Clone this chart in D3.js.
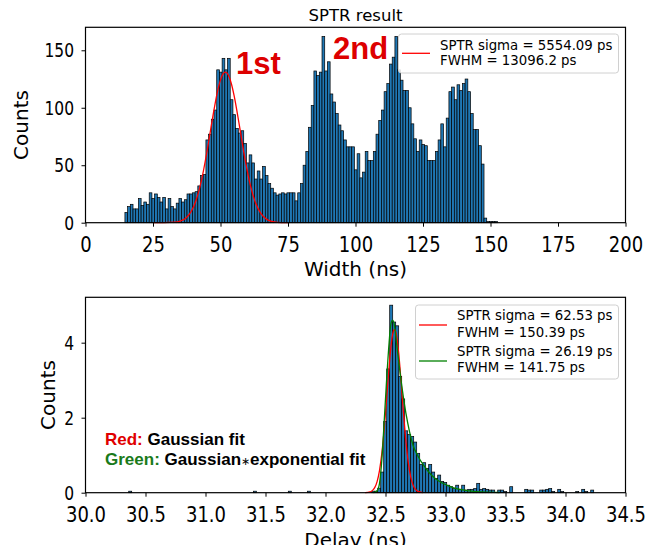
<!DOCTYPE html>
<html><head><meta charset="utf-8">
<script src="https://cdn.jsdelivr.net/npm/d3@7"></script>
<style>body{margin:0;background:#fff} svg{display:block}</style>
</head><body><svg id="c" width="658" height="545"></svg>
<script>
// ---------- data ----------
const widthBinStart = 14.6;
const widthBinSize = 1.0;
const widthCounts = [
  9,14,16,12,12,21,15,18,16,26,
  21,25,22,18,22,12,21,14,12,17,
  21,18,20,25,25,26,27,32,41,42,
  72,77,90,98,133,131,143,133,143,107,
  94,82,78,80,69,52,59,52,38,45,
  38,49,41,34,30,26,24,25,26,25,
  26,26,26,19,26,34,50,62,83,102,
  132,128,131,162,132,140,112,105,95,85,
  80,72,66,66,66,46,60,39,44,62,
  54,54,62,77,89,98,114,121,138,144,
  162,133,124,115,115,100,86,73,62,72,
  68,67,54,54,54,62,72,86,66,91,
  114,118,107,120,115,121,125,114,95,81,
  81,67,51,4,1,1,1,1
];
const firstFitX = [25,29,33,35,37,39,41,43,45,47,49,50,51,51.8,53,54,55,57,59,61,63,65,67,69,71,75];
const firstFitY = [0,0.03,0.43,1.35,3.76,9.2,19.8,37.3,62,90.2,115.4,124.3,129.7,131,128,121.1,111,84.5,56.5,33.2,17.2,7.8,3.1,1.08,0.33,0.02];

const delayBinStart = 32.385;
const delayBinSize = 0.025;
const delayDensity = [
  0.04,0.04,0.12,0.55,1.9,3.3,5.0,4.55,4.45,3.1,
  2.5,1.65,1.55,1.5,1.35,1.05,0.75,0.8,0.65,0.75,
  0.55,0.38,0.47,0.3,0.27,0.2,0.16,0.11,0.2,0.09,
  0.2,0.07,0.09,0.09,0.11,0.25,0.09,0.11,0.09,0.07,
  0.07,0,0.07,0.07,0.03,0,0.16,0,0,0,
  0,0.09,0.07,0.07,0,0,0.07,0.07,0.09,0.11,
  0.03,0,0.09,0.03,0,0,0,0,0.03,0,
  0.09,0.03,0,0.07
];
const delayOutlierBins = [30.36, 31.40, 31.69, 31.85];
const delayOutlierDensity = [0.04, 0.04, 0.04, 0.04];
const gaussFitX = [32.33,32.37,32.39,32.41,32.43,32.45,32.47,32.49,32.51,32.53,32.55,32.57,32.575,32.59,32.61,32.63,32.65,32.67,32.69,32.71,32.73,32.75,32.77,32.81];
const gaussFitY = [0.002,0.02,0.055,0.134,0.295,0.59,1.06,1.73,2.53,3.36,4.02,4.34,4.35,4.23,3.72,2.95,2.12,1.37,0.8,0.42,0.2,0.087,0.034,0.004];
const expFitX = [32.40,32.43,32.45,32.47,32.49,32.51,32.53,32.545,32.56,32.575,32.59,32.61,32.63,32.65,32.67,32.70,32.73,32.77,32.82,32.88,32.95,33.02,33.10,33.20,33.30,33.45];
const expFitY = [0,0.05,0.25,0.9,1.95,3.05,4.0,4.5,4.6,4.45,4.05,3.5,2.98,2.52,2.12,1.63,1.26,0.98,0.72,0.48,0.3,0.19,0.1,0.05,0.02,0.005];

const widthTicks = [0,25,50,75,100,125,150,175,200];
const topCountTicks = [0,50,100,150];
const delayTicks = [30.0,30.5,31.0,31.5,32.0,32.5,33.0,33.5,34.0,34.5];
const bottomCountTicks = [0,2,4];
const topLegend = ["SPTR sigma = 5554.09 ps", "FWHM = 13096.2 ps"];
const bottomLegend = [["SPTR sigma = 62.53 ps", "FWHM = 150.39 ps"], ["SPTR sigma = 26.19 ps", "FWHM = 141.75 ps"]];

// ---------- drawing ----------
const svg = d3.select("#c");
const BAR = "#1f77b4";
const FONT = "DejaVu Sans, sans-serif";
const BOLD = "Liberation Sans, Arial, sans-serif";

function panel(top, bottom, xDomain, yDomain) {
  const x = d3.scaleLinear().domain(xDomain).range([85.5, 625.5]);
  const y = d3.scaleLinear().domain(yDomain).range([bottom, top]);
  return {x, y};
}
function frame(p, xt, yt, fmt, yLabelX, xLabelY, xLabel) {
  const [x0, x1] = p.x.range(); const [b, t] = p.y.range();
  const gx = svg.append("g").attr("transform", `translate(0,${b})`)
    .call(d3.axisBottom(p.x).tickValues(xt).tickFormat(fmt).tickSize(4).tickSizeOuter(0));
  const gy = svg.append("g").attr("transform", `translate(${x0},0)`)
    .call(d3.axisLeft(p.y).tickValues(yt).tickFormat(d3.format("d")).tickSize(4).tickSizeOuter(0));
  [gx, gy].forEach(g => {
    g.select(".domain").remove();
    g.selectAll("line").attr("stroke", "#000").attr("stroke-width", 1);
    g.selectAll("text").attr("fill", "#000").attr("font-family", FONT);
  });
  gx.selectAll("text").attr("font-size", 18).attr("y", 0).attr("dy", 0)
    .attr("transform", "translate(0,29.5) scale(1,1.22)");
  gy.selectAll("text").attr("font-size", 15.5).attr("x", 0).attr("dy", "0.33em")
    .attr("transform", "translate(-11.5,0) scale(1,1.3)");
  svg.append("rect").attr("x", x0).attr("y", t).attr("width", x1 - x0).attr("height", b - t)
    .attr("fill", "none").attr("stroke", "#000").attr("stroke-width", 1.2);
  svg.append("text").attr("x", (x0 + x1) / 2).attr("y", xLabelY).attr("text-anchor", "middle")
    .attr("font-family", FONT).attr("font-size", 20).text(xLabel);
  svg.append("text").attr("transform", `translate(${yLabelX},${(b + t) / 2}) rotate(-90)`)
    .attr("text-anchor", "middle").attr("font-family", FONT).attr("font-size", 20).text("Counts");
}

// top panel
const P1 = panel(27.3, 222.7, [0, 200], [0, 170]);
svg.append("g").selectAll("rect").data(widthCounts).join("rect")
  .attr("x", (d, i) => P1.x(widthBinStart + i * widthBinSize))
  .attr("width", P1.x(widthBinSize) - P1.x(0))
  .attr("y", d => P1.y(d)).attr("height", d => P1.y(0) - P1.y(d))
  .attr("fill", BAR).attr("stroke", "#000").attr("stroke-width", 0.7);
svg.append("path").datum(firstFitX.map((v, i) => [v, firstFitY[i]]))
  .attr("d", d3.line().x(d => P1.x(d[0])).y(d => P1.y(d[1])).curve(d3.curveMonotoneX))
  .attr("fill", "none").attr("stroke", "#ff0000").attr("stroke-width", 1.3);
frame(P1, widthTicks, topCountTicks, d3.format("d"), 28, 276, "Width (ns)");
svg.append("text").attr("x", 355.5).attr("y", 21).attr("text-anchor", "middle")
  .attr("font-family", FONT).attr("font-size", 16.5).text("SPTR result");
svg.append("text").attr("x", 236).attr("y", 74).attr("font-family", BOLD).attr("font-weight", "bold")
  .attr("font-size", 31).attr("fill", "#dd0000").text("1st");
svg.append("text").attr("x", 333).attr("y", 59).attr("font-family", BOLD).attr("font-weight", "bold")
  .attr("font-size", 31).attr("fill", "#dd0000").text("2nd");
// top legend
const lg1 = svg.append("g");
lg1.append("rect").attr("x", 398.5).attr("y", 34).attr("width", 220).attr("height", 39).attr("rx", 3)
  .attr("fill", "#fff").attr("fill-opacity", 0.85).attr("stroke", "#d0d0d0");
lg1.append("line").attr("x1", 402).attr("x2", 430).attr("y1", 53.3).attr("y2", 53.3)
  .attr("stroke", "#ff0000").attr("stroke-width", 1.3);
topLegend.forEach((s, i) => lg1.append("text").attr("x", 440).attr("y", 50 + i * 15.3)
  .attr("font-family", FONT).attr("font-size", 13.3).text(s));

// bottom panel
const P2 = panel(297.3, 492.7, [30, 34.5], [0, 5.21]);
const dBars = delayDensity.map((v, i) => ({x: delayBinStart + i * delayBinSize, v}))
  .concat(delayOutlierBins.map((b, i) => ({x: b, v: delayOutlierDensity[i]})))
  .filter(d => d.v > 0);
svg.append("g").selectAll("rect").data(dBars).join("rect")
  .attr("x", d => P2.x(d.x)).attr("width", P2.x(30 + delayBinSize) - P2.x(30))
  .attr("y", d => P2.y(d.v)).attr("height", d => P2.y(0) - P2.y(d.v))
  .attr("fill", BAR).attr("stroke", "#000").attr("stroke-width", 0.7);
svg.append("path").datum(gaussFitX.map((v, i) => [v, gaussFitY[i]]))
  .attr("d", d3.line().x(d => P2.x(d[0])).y(d => P2.y(d[1])).curve(d3.curveMonotoneX))
  .attr("fill", "none").attr("stroke", "#ff0000").attr("stroke-width", 1.3);
svg.append("path").datum(expFitX.map((v, i) => [v, expFitY[i]]))
  .attr("d", d3.line().x(d => P2.x(d[0])).y(d => P2.y(d[1])).curve(d3.curveMonotoneX))
  .attr("fill", "none").attr("stroke", "#008000").attr("stroke-width", 1.3);
frame(P2, delayTicks, bottomCountTicks, d3.format(".1f"), 55, 547, "Delay (ns)");
// bottom legend
const lg2 = svg.append("g");
lg2.append("rect").attr("x", 415.5).attr("y", 305).attr("width", 203).attr("height", 74).attr("rx", 3)
  .attr("fill", "#fff").attr("fill-opacity", 0.85).attr("stroke", "#d0d0d0");
[["#ff0000", 325], ["#008000", 361]].forEach(([c, yy]) => lg2.append("line")
  .attr("x1", 419).attr("x2", 447).attr("y1", yy).attr("y2", yy).attr("stroke", c).attr("stroke-width", 1.3));
bottomLegend.flat().forEach((s, i) => lg2.append("text").attr("x", 457).attr("y", 320 + i * 16.8 + (i >= 2 ? 2 : 0))
  .attr("font-family", FONT).attr("font-size", 13.3).text(s));
// annotation
const ann = svg.append("g").attr("font-family", BOLD).attr("font-weight", "bold").attr("font-size", 17);
const t1 = ann.append("text").attr("x", 105).attr("y", 445);
t1.append("tspan").attr("fill", "#e00000").text("Red: ");
t1.append("tspan").attr("fill", "#000").text("Gaussian fit");
const t2 = ann.append("text").attr("x", 105).attr("y", 465);
t2.append("tspan").attr("fill", "#1a7a1a").text("Green: ");
t2.append("tspan").attr("fill", "#000").text("Gaussian");
t2.append("tspan").attr("fill", "#000").attr("font-size", 11).attr("font-weight", "normal").text("\u2217");
t2.append("tspan").attr("fill", "#000").text("exponential fit");
</script></body></html>
